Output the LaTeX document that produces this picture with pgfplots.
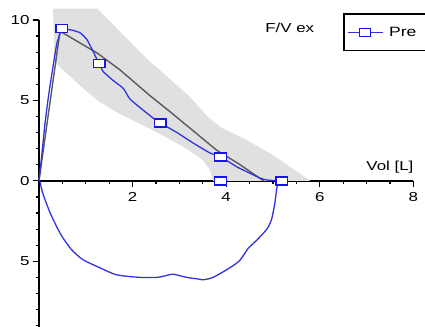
\documentclass[border=0pt]{standalone}
\usepackage{fontspec}
\setmainfont{Liberation Sans}[FakeStretch=1.3]
\usepackage{pgfplots}
\pgfplotsset{compat=1.18}
\definecolor{curve}{RGB}{50,50,225}
\definecolor{mk}{RGB}{20,20,235}
\definecolor{band}{RGB}{224,224,224}
\definecolor{pred}{RGB}{90,90,90}
\begin{document}
\begin{tikzpicture}
\begin{axis}[
  scale only axis, width=374.4pt, height=306.9pt,
  xmin=0, xmax=8, ymin=-9.07, ymax=10,
  axis lines=middle,
  axis line style={-, line width=1.6pt, black},
  clip=false,
  xtick={2,4,6,8}, xticklabels={2,4,6,8},
  ytick={-5,0,5,10}, yticklabels={5,0,5,10},
  minor xtick={0.5,1,1.5,2.5,3,3.5,4.5,5,5.5,6.5,7,7.5},
  minor ytick={-9,-8,-7,-6,-4,-3,-2,-1,1,2,3,4,6,7,8,9},
  tick align=outside, major tick length=6pt, minor tick length=3pt,
  tick style={black, line width=1.2pt},
  xticklabel style={yshift=-2pt},
  hide obscured y ticks=false,
  font=\fontsize{13}{15}\selectfont,
  /pgf/number format/assume math mode=true,
  legend style={at={(axis cs:6.5,10.43)}, anchor=north west, draw=black,
    line width=1.5pt, inner xsep=3pt, inner ysep=11pt, font=\fontsize{13.5}{15}\selectfont,
    nodes={inner xsep=6pt}},
  legend image code/.code={\draw[mark repeat=2,mark phase=2,#1] plot coordinates {(0pt,0pt) (17.5pt,0pt) (35pt,0pt)};},
]
\coordinate (bl) at (axis cs:-0.833,-9.07);
\coordinate (tr) at (axis cs:8.25,11.24);
% predicted band
\addplot[fill=band, draw=none, forget plot] coordinates {
 (0.3,10.7) (1.25,10.7) (2.3,7.6) (3.2,5.3) (3.6,4.0) (3.9,3.3) (4.4,2.6) (5.0,1.6) (5.8,0)
 (3.72,0) (3.65,0.7) (3.5,1.3) (3.1,2.1) (2.4,3.2) (1.7,4.2) (1.3,4.9) (1.0,5.6) (0.7,6.4) (0.4,7.2) (0.33,7.4)
} -- cycle;
% predicted line
\addplot[pred, line width=1.4pt, forget plot] coordinates {
 (0,0) (0.45,9.3) (1.24,7.95) (1.73,6.9) (2.37,5.3) (2.8,4.3) (3.8,1.9) (4.3,1.0) (4.6,0.4) (4.8,0)
};
% expiratory
\addplot[curve, line width=1.3pt, smooth, tension=0.3, forget plot] coordinates {
 (0,0) (0.06,1.6) (0.13,3.6) (0.21,5.4) (0.30,7.1) (0.38,8.5) (0.49,9.46) (0.6,9.42) (0.73,9.35)
 (0.88,9.2) (1.02,8.8) (1.13,8.2) (1.24,7.55) (1.29,7.29) (1.37,6.8) (1.58,6.25) (1.8,5.75) (1.94,5.1)
 (2.16,4.55) (2.44,3.9) (2.59,3.6) (2.95,3.0) (3.29,2.36) (3.65,1.74) (3.88,1.49) (4.23,0.87)
 (4.36,0.68) (4.72,0.18) (4.87,0.05) (5.19,0)
};
% inspiratory
\addplot[curve, line width=1.3pt, smooth, tension=0.4, forget plot] coordinates {
 (5.17,0) (5.11,-0.2) (5.08,-0.5) (5.04,-1.4) (4.97,-2.4) (4.87,-3.0) (4.65,-3.7) (4.47,-4.2)
 (4.29,-4.95) (4.08,-5.4) (3.72,-6.0) (3.5,-6.15) (3.4,-6.1) (3.16,-6.0) (2.95,-5.85) (2.84,-5.8)
 (2.7,-5.9) (2.52,-6.0) (2.16,-6.0) (1.66,-5.84) (1.30,-5.4) (0.94,-4.9) (0.70,-4.29) (0.51,-3.54)
 (0.38,-2.86) (0.24,-2.0) (0.13,-1.18) (0.06,-0.56) (0.02,0)
};
% markers
\addplot[only marks, mark=square*, mark size=4pt,
  mark options={fill=white, draw=mk, line width=1.3pt, xscale=1.45}, forget plot] coordinates {
 (0.49,9.46) (1.29,7.29) (2.59,3.6) (3.88,1.49) (3.88,0) (5.19,0)
};
\addlegendimage{curve, line width=1.3pt, mark=square*, mark size=4pt,
  mark options={fill=white, draw=mk, line width=1.3pt, xscale=1.45}}
\addlegendentry{Pre\hspace{20pt}}
\node at (axis cs:5.36,9.53) {F/V ex};
\node at (axis cs:7.5,0.87) {Vol [L]};
\end{axis}
\pgfresetboundingbox
\path[use as bounding box] (bl) rectangle (tr);
\end{tikzpicture}
\end{document}
